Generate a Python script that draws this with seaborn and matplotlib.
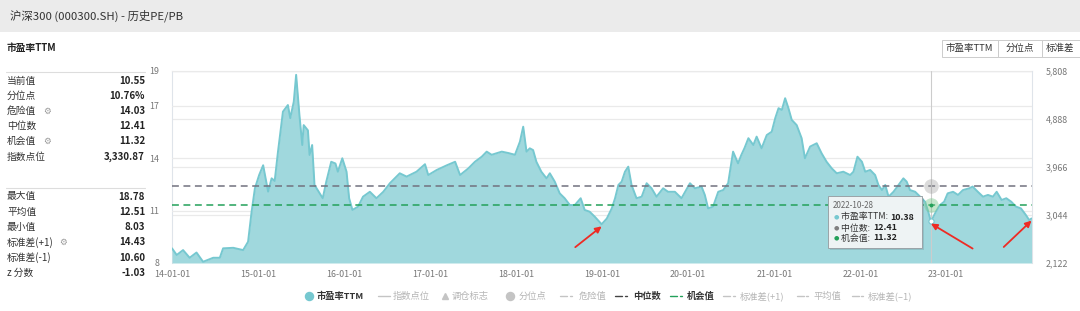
import matplotlib
matplotlib.use("Agg")
import matplotlib.pyplot as plt
import seaborn as sns
import pandas as pd
from matplotlib.lines import Line2D
from matplotlib.patches import Rectangle, FancyBboxPatch
from matplotlib.ticker import FixedLocator, FuncFormatter
import matplotlib.dates as mdates

# ---------------- data ----------------
dates = [
    "2014-01-01", "2014-01-21", "2014-02-17", "2014-03-17", "2014-04-15", "2014-05-13",
    "2014-06-25", "2014-07-23", "2014-08-06", "2014-09-18", "2014-10-30", "2014-11-20",
    "2014-12-05", "2014-12-19", "2015-01-06", "2015-01-23", "2015-02-13", "2015-02-28",
    "2015-03-13", "2015-03-27", "2015-04-17", "2015-05-08", "2015-05-18", "2015-06-02",
    "2015-06-12", "2015-06-26", "2015-07-08", "2015-07-14", "2015-08-01", "2015-08-08",
    "2015-08-19", "2015-08-29", "2015-10-03", "2015-10-18", "2015-11-08", "2015-11-26",
    "2015-12-06", "2015-12-25", "2016-01-12", "2016-01-23", "2016-02-06", "2016-03-01",
    "2016-03-22", "2016-04-20", "2016-05-18", "2016-06-16", "2016-07-14", "2016-08-25",
    "2016-09-23", "2016-11-04", "2016-12-10", "2016-12-24", "2017-01-29", "2017-03-13",
    "2017-04-17", "2017-05-08", "2017-06-12", "2017-07-10", "2017-08-08", "2017-08-29",
    "2017-09-19", "2017-11-01", "2017-11-29", "2017-12-27", "2018-01-17", "2018-01-31",
    "2018-02-14", "2018-02-28", "2018-03-14", "2018-03-28", "2018-04-18", "2018-05-10",
    "2018-05-24", "2018-06-14", "2018-07-05", "2018-07-26", "2018-08-17", "2018-09-07",
    "2018-10-02", "2018-10-19", "2018-11-09", "2018-12-01", "2018-12-30", "2019-01-21",
    "2019-02-11", "2019-02-25", "2019-03-11", "2019-03-25", "2019-04-08", "2019-04-22",
    "2019-05-06", "2019-05-27", "2019-06-18", "2019-07-09", "2019-07-30", "2019-08-20",
    "2019-09-17", "2019-10-08", "2019-11-06", "2019-12-04", "2020-01-09", "2020-01-30",
    "2020-02-27", "2020-03-12", "2020-03-26", "2020-04-16", "2020-05-08", "2020-05-29",
    "2020-06-19", "2020-07-10", "2020-07-31", "2020-08-14", "2020-08-28", "2020-09-13",
    "2020-10-04", "2020-10-18", "2020-11-08", "2020-11-30", "2020-12-21", "2021-01-05",
    "2021-01-19", "2021-02-02", "2021-02-16", "2021-03-02", "2021-03-16", "2021-04-06",
    "2021-04-27", "2021-05-11", "2021-06-02", "2021-06-30", "2021-07-21", "2021-08-11",
    "2021-09-02", "2021-09-23", "2021-10-21", "2021-11-19", "2021-12-03", "2021-12-20",
    "2022-01-08", "2022-01-22", "2022-02-12", "2022-03-05", "2022-03-19", "2022-04-03",
    "2022-04-17", "2022-05-01", "2022-05-22", "2022-06-12", "2022-07-03", "2022-07-17",
    "2022-07-31", "2022-08-22", "2022-09-12", "2022-10-03", "2022-10-14", "2022-10-28",
    "2022-11-18", "2022-12-05", "2022-12-23", "2023-01-07", "2023-01-30", "2023-02-20",
    "2023-03-13", "2023-04-09", "2023-04-23", "2023-05-15", "2023-06-06", "2023-06-27",
    "2023-07-18", "2023-08-03", "2023-08-24", "2023-09-13", "2023-10-04", "2023-10-24",
    "2023-11-14", "2023-12-05", "2023-12-19", "2023-12-29",
]
pe_ttm = [
    8.84, 8.46, 8.74, 8.30, 8.60, 8.07,
    8.30, 8.30, 8.84, 8.87, 8.74, 9.22,
    10.94, 12.28, 13.04, 13.60, 12.09, 12.85,
    12.70, 14.38, 16.67, 17.05, 16.30, 17.24,
    18.78, 16.48, 14.76, 15.90, 15.60, 14.19,
    14.76, 12.47, 11.71, 12.66, 13.80, 13.70,
    13.23, 14.00, 13.23, 11.71, 11.04, 11.23,
    11.80, 12.08, 11.71, 12.08, 12.57, 13.14,
    12.95, 13.23, 13.66, 13.04, 13.33, 13.60,
    13.80, 13.04, 13.42, 13.80, 14.09, 14.38,
    14.20, 14.38, 14.30, 14.20, 14.95, 15.81,
    14.38, 14.57, 14.47, 13.80, 13.23, 12.85,
    13.14, 12.66, 11.99, 11.71, 11.32, 11.32,
    11.71, 11.04, 10.94, 10.65, 10.22, 10.55,
    11.13, 11.71, 12.47, 12.66, 13.23, 13.52,
    12.47, 11.71, 11.80, 12.57, 12.28, 11.80,
    12.28, 12.08, 12.08, 11.71, 12.57, 12.28,
    12.38, 11.90, 11.13, 11.23, 12.08, 12.18,
    12.57, 14.38, 13.71, 14.19, 14.60, 15.15,
    14.76, 15.24, 14.57, 15.33, 15.52, 16.30,
    16.87, 16.77, 17.44, 16.87, 16.20, 15.90,
    15.15, 14.00, 14.67, 14.86, 14.28, 13.80,
    13.42, 13.14, 13.23, 13.04, 13.23, 14.09,
    13.80, 13.23, 13.33, 13.04, 12.47, 12.18,
    12.47, 11.80, 12.08, 12.47, 12.85, 12.66,
    12.18, 12.08, 11.80, 11.51, 11.05, 10.38,
    10.94, 11.32, 11.51, 11.99, 12.08, 11.90,
    12.18, 12.28, 12.38, 12.08, 11.80, 11.90,
    11.80, 12.08, 11.61, 11.71, 11.51, 11.23,
    11.13, 10.75, 10.46, 10.55,
]
median_pe = 12.41
chance_pe = 11.32
hover_date = "2022-10-28"
hover_pe = 10.38
arrow_dates = ["2018-12-30", "2022-10-28", "2023-12-29"]

pe_ticks = [8, 11, 14, 17, 19]
index_ticks = [2122, 3044, 3966, 4888, 5808]
year_ticks = ["2014-01-01", "2015-01-01", "2016-01-01", "2017-01-01", "2018-01-01",
              "2019-01-01", "2020-01-01", "2021-01-01", "2022-01-01", "2023-01-01"]

title_text = "沪深300 (000300.SH) - 历史PE/PB"
panel_title = "市盈率TTM"
stat_labels_top = ["当前值", "分位点", "危险值", "中位数", "机会值", "指数点位"]
stat_values_top = ["10.55", "10.76%", "14.03", "12.41", "11.32", "3,330.87"]
gear_top = [None, None, 47, None, 47, None]
stat_labels_bot = ["最大值", "平均值", "最小值", "标准差(+1)", "标准差(-1)", "z 分数"]
stat_values_bot = ["18.78", "12.51", "8.03", "14.43", "10.60", "-1.03"]
gear_bot = [None, None, None, 63, None, None]
buttons = ["市盈率TTM", "分位点", "标准差"]
legend_names = ["市盈率TTM", "指数点位", "调仓标志", "分位点", "危险值", "中位数",
                "机会值", "标准差(+1)", "平均值", "标准差(–1)"]

# ---------------- style ----------------
sns.set_theme(style="white")
plt.rcParams["font.family"] = ["Noto Sans CJK SC", "DejaVu Sans"]
plt.rcParams["axes.unicode_minus"] = False

W, H = 1080, 311
fig = plt.figure(figsize=(W / 100, H / 100), dpi=100)
fig.patch.set_facecolor("white")


def fx(px):
    return px / W


def fy(py):
    return 1 - py / H


TEAL_FILL = "#a0d8dd"
TEAL_LINE = "#76c8d0"
GRAY_DASH = "#72727e"
GREEN = "#23a15a"
TICK_C = "#777777"

# header band
fig.patches.append(Rectangle((0, fy(32)), 1, 32 / H, transform=fig.transFigure,
                             facecolor="#ebebeb", edgecolor="none", zorder=0))
fig.text(fx(10), fy(16), title_text, fontsize=8.2, color="#333333", va="center", ha="left")

# ---------------- main axes ----------------
L, R, T, B = 172, 1032, 71, 263
rect = [fx(L), fy(B), fx(R) - fx(L), (B - T) / H]
ax2 = fig.add_axes(rect)   # background: right scale and grid
ax = fig.add_axes(rect)    # foreground: PE area
ax.set_zorder(2)
ax.patch.set_visible(False)

df = pd.DataFrame({"date": pd.to_datetime(dates), "pe": pe_ttm})
x0, x1 = pd.Timestamp("2014-01-01"), pd.Timestamp("2023-12-31")

ax.fill_between(df["date"], pe_ticks[0], df["pe"], color=TEAL_FILL, lw=0, zorder=1)
sns.lineplot(data=df, x="date", y="pe", ax=ax, color=TEAL_LINE, linewidth=1.4, zorder=2)
ax.axhline(median_pe, color=GRAY_DASH, lw=1.1, ls=(0, (4.5, 3)), zorder=3)
ax.axhline(chance_pe, color=GREEN, lw=1.1, ls=(0, (4.5, 3)), zorder=3)

ax.set_xlim(x0, x1)
ax.set_ylim(pe_ticks[0], pe_ticks[-1])
ax.yaxis.set_major_locator(FixedLocator(pe_ticks))
ax.xaxis.set_major_locator(FixedLocator(mdates.date2num(pd.to_datetime(year_ticks))))
ax.set_xticklabels([d[2:] for d in year_ticks])
ax.set_xlabel("")
ax.set_ylabel("")
ax.tick_params(axis="y", length=0, pad=9, labelsize=6.4, labelcolor=TICK_C)
ax.tick_params(axis="x", length=3, width=0.6, color="#cfd6df", pad=2, labelsize=6.4,
               labelcolor=TICK_C)
for s in ax.spines.values():
    s.set_visible(False)

ax2.set_xlim(x0, x1)
ax2.set_xticks([])
ax2.set_ylim(index_ticks[0], index_ticks[-1])
ax2.yaxis.tick_right()
ax2.yaxis.set_major_locator(FixedLocator(index_ticks))
ax2.yaxis.set_major_formatter(FuncFormatter(lambda v, p: f"{int(v):,}"))
ax2.tick_params(axis="y", length=0, pad=10, labelsize=6.4, labelcolor=TICK_C)
ax2.grid(True, axis="y", color="#eaeaea", lw=0.9)
for sp, s in ax2.spines.items():
    s.set_color("#dfe4ea")
    s.set_linewidth(0.8)
ax2.spines["bottom"].set_visible(False)
for v in pe_ticks:
    ax.axhline(v, color="#eaeaea", lw=0.9, zorder=0)

# crosshair and hover markers
hd = pd.Timestamp(hover_date)
ax.axvline(hd, color="#cccccc", lw=0.8, zorder=4)
ax.scatter([hd], [median_pe], s=110, color="#9a9a9a", alpha=0.35, lw=0, zorder=5)
ax.scatter([hd], [chance_pe], s=110, color="#7cc98f", alpha=0.45, lw=0, zorder=5)
ax.scatter([hd], [chance_pe], s=8, color=GREEN, lw=0, zorder=6)
ax.scatter([hd], [hover_pe], s=14, facecolor="white", edgecolor=TEAL_LINE, lw=0.8, zorder=6)

# red arrows
offsets = [(-19, -15), (30, -18), (-20, -19)]
for d, off in zip(arrow_dates, offsets):
    yv = df.loc[df["date"] == pd.Timestamp(d), "pe"].iloc[0]
    ax.annotate("", xy=(pd.Timestamp(d), yv - 0.12), xytext=off, textcoords="offset points",
                arrowprops=dict(arrowstyle="-|>", color="#ee2b24", lw=1.3,
                                mutation_scale=9, shrinkA=0, shrinkB=0), zorder=8)

# ---------------- tooltip ----------------
tx0, ty0, tx1, ty1 = 828, 196, 922, 248
fig.patches.append(FancyBboxPatch((fx(tx0 + 1.5), fy(ty1 + 1.5)), fx(tx1 - tx0), (ty1 - ty0) / H,
                                  boxstyle="square,pad=0", transform=fig.transFigure,
                                  facecolor="#000000", alpha=0.10, edgecolor="none", zorder=9))
fig.patches.append(FancyBboxPatch((fx(tx0), fy(ty1)), fx(tx1 - tx0), (ty1 - ty0) / H,
                                  boxstyle="square,pad=0", transform=fig.transFigure,
                                  facecolor="#eef3f4", edgecolor="#9aa3a8", lw=0.7, zorder=10))
fig.text(fx(833), fy(206), hover_date, fontsize=5.8, color="#666666", va="center", zorder=11)
tip_rows = [("市盈率TTM: ", f"{hover_pe:.2f}", TEAL_LINE, 217, 890),
            ("中位数: ", f"{median_pe:.2f}", "#808080", 228, 873),
            ("机会值: ", f"{chance_pe:.2f}", GREEN, 238, 873)]
for lab, val, c, yy, vx in tip_rows:
    fig.text(fx(836), fy(yy), "●", fontsize=4.5, color=c, va="center", ha="center", zorder=11,
             family=["DejaVu Sans"])
    fig.text(fx(841), fy(yy), lab, fontsize=6.4, color="#333333", va="center", zorder=11)
    fig.text(fx(vx), fy(yy), val, fontsize=6.4, color="#222222", weight="bold", va="center",
             zorder=11)

# ---------------- left panel ----------------
fig.text(fx(7), fy(48), panel_title, fontsize=7, weight="bold", color="#222222", va="center")
for yy in (71.5, 188):
    fig.add_artist(Line2D([fx(6), fx(145)], [fy(yy), fy(yy)], transform=fig.transFigure,
                          color="#dddddd", lw=0.8))


def stat_rows(labels, values, gears, y_start, step):
    for i, (lab, val, g) in enumerate(zip(labels, values, gears)):
        yy = y_start + i * step
        fig.text(fx(7), fy(yy), lab, fontsize=7, color="#333333", va="center")
        if g is not None:
            fig.text(fx(g), fy(yy), "⚙", fontsize=6.3, color="#999999", va="center",
                     ha="center", family=["DejaVu Sans"])
        fig.text(fx(145), fy(yy), val, fontsize=7, color="#222222", weight="bold",
                 va="center", ha="right")


stat_rows(stat_labels_top, stat_values_top, gear_top, 80.5, 15.2)
stat_rows(stat_labels_bot, stat_values_bot, gear_bot, 196.5, 15.3)

# ---------------- buttons ----------------
btn_edges = [941.5, 998, 1041.5, 1082]
for i, lab in enumerate(buttons):
    a, b = btn_edges[i], btn_edges[i + 1]
    fig.patches.append(Rectangle((fx(a), fy(56.5)), fx(b - a), 16.5 / H,
                                 transform=fig.transFigure, facecolor="white",
                                 edgecolor="#cccccc", lw=0.7, zorder=1))
    fig.text(fx((a + min(b, 1080)) / 2 - (1 if i == 2 else 0)), fy(48.3), lab, fontsize=6.8,
             color="#333333", ha="center", va="center")

# ---------------- legend ----------------
LY = 296
light = "#c4c4c4"
lighttext = "#b5b5b5"
LFS = 6.7


def seg(x_a, x_b, color, dashdot=False, lw=1.0):
    if dashdot:
        fig.add_artist(Line2D([fx(x_a), fx(x_a + 6.5)], [fy(LY), fy(LY)],
                              transform=fig.transFigure, color=color, lw=lw))
        fig.add_artist(Line2D([fx(x_b - 2), fx(x_b)], [fy(LY), fy(LY)],
                              transform=fig.transFigure, color=color, lw=lw))
    else:
        fig.add_artist(Line2D([fx(x_a), fx(x_b)], [fy(LY), fy(LY)],
                              transform=fig.transFigure, color=color, lw=lw))


def mark(x, marker, color, ms):
    fig.add_artist(Line2D([fx(x)], [fy(LY)], transform=fig.transFigure, marker=marker,
                          color=color, markersize=ms, lw=0))


mark(309, "o", TEAL_LINE, 5.8)
fig.text(fx(317), fy(LY), legend_names[0], fontsize=LFS, weight="bold", color="#333333", va="center")
seg(378, 390, light)
fig.text(fx(393), fy(LY), legend_names[1], fontsize=LFS, color=lighttext, va="center")
mark(445, "^", light, 4.5)
fig.text(fx(452), fy(LY), legend_names[2], fontsize=LFS, color=lighttext, va="center")
mark(510, "o", light, 5.8)
fig.text(fx(519), fy(LY), legend_names[3], fontsize=LFS, color=lighttext, va="center")
seg(560, 572, light, True)
fig.text(fx(579), fy(LY), legend_names[4], fontsize=LFS, color=lighttext, va="center")
seg(615, 627, "#444444", True)
fig.text(fx(633), fy(LY), legend_names[5], fontsize=LFS, weight="bold", color="#333333", va="center")
seg(670, 682, GREEN, True)
fig.text(fx(687), fy(LY), legend_names[6], fontsize=LFS, weight="bold", color="#333333", va="center")
seg(723, 735, light, True)
fig.text(fx(740), fy(LY), legend_names[7], fontsize=LFS, color=lighttext, va="center")
seg(797, 808, light, True)
fig.text(fx(813), fy(LY), legend_names[8], fontsize=LFS, color=lighttext, va="center")
seg(852, 863, light, True)
fig.text(fx(868), fy(LY), legend_names[9], fontsize=LFS, color=lighttext, va="center")

fig.savefig("out.png", dpi=100, facecolor="white")
